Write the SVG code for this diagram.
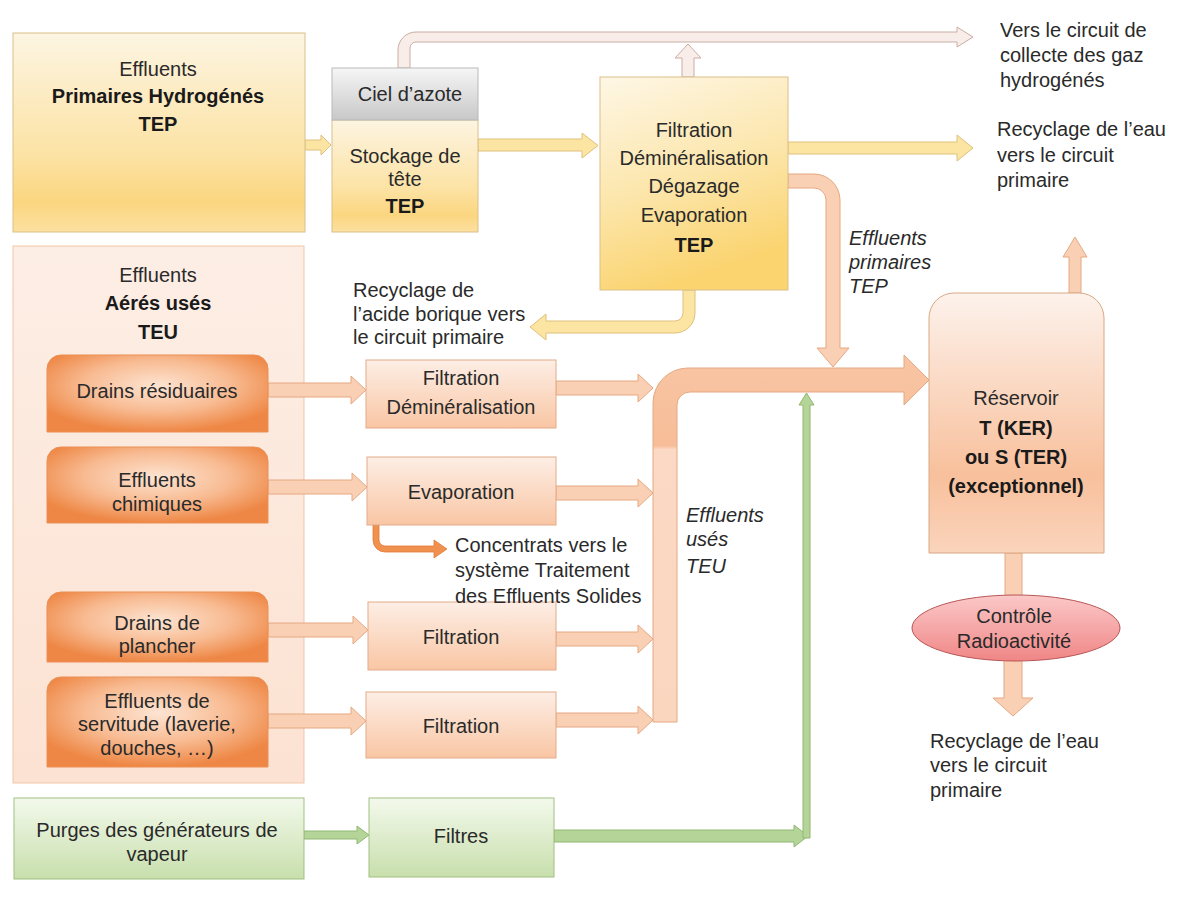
<svg xmlns="http://www.w3.org/2000/svg" width="1196" height="907" viewBox="0 0 1196 907">
<defs>
<linearGradient id="gYel" x1="0" y1="0" x2="0" y2="1"><stop offset="0" stop-color="#fdf5e2"/><stop offset="0.6" stop-color="#fce3a6"/><stop offset="0.85" stop-color="#fbd680"/><stop offset="1" stop-color="#fce0a0"/></linearGradient>
<linearGradient id="gYel2" x1="0" y1="0" x2="0.3" y2="1"><stop offset="0" stop-color="#fef7e6"/><stop offset="0.55" stop-color="#fce6ac"/><stop offset="1" stop-color="#fbd470"/></linearGradient>
<linearGradient id="gGray" x1="0" y1="0" x2="0" y2="1"><stop offset="0" stop-color="#f6f6f6"/><stop offset="1" stop-color="#c8c8c8"/></linearGradient>
<linearGradient id="gSal" x1="0" y1="0" x2="0" y2="1"><stop offset="0" stop-color="#fdeee5"/><stop offset="1" stop-color="#f9c6a4"/></linearGradient>
<linearGradient id="gCont" x1="0" y1="0" x2="0" y2="1"><stop offset="0" stop-color="#fdeee5"/><stop offset="1" stop-color="#fce2d2"/></linearGradient>
<radialGradient id="gOr" cx="0.5" cy="0.4" r="0.6"><stop offset="0" stop-color="#fde4d2"/><stop offset="0.55" stop-color="#f8bb92"/><stop offset="1" stop-color="#ee8745"/></radialGradient>
<linearGradient id="gRes" x1="0" y1="0" x2="0" y2="1"><stop offset="0" stop-color="#fdf2ec"/><stop offset="0.7" stop-color="#f8c09c"/><stop offset="1" stop-color="#fad4bc"/></linearGradient>
<linearGradient id="gEll" x1="0" y1="0" x2="0" y2="1"><stop offset="0" stop-color="#fbc8c8"/><stop offset="1" stop-color="#f08686"/></linearGradient>
<linearGradient id="gGrn" x1="0" y1="0" x2="0" y2="1"><stop offset="0" stop-color="#f3f9ec"/><stop offset="1" stop-color="#c8dfac"/></linearGradient>
<linearGradient id="gPipe" gradientUnits="userSpaceOnUse" x1="0" y1="368" x2="0" y2="722"><stop offset="0" stop-color="#f8c4a2"/><stop offset="0.22" stop-color="#f7bd98"/><stop offset="0.23" stop-color="#fbd9c4"/><stop offset="1" stop-color="#fbd6bf"/></linearGradient>
<style>
text{font-family:'Liberation Sans',Arial,sans-serif;font-size:20px;fill:#2a2a2a}
.c{text-anchor:middle}
.b{font-weight:bold;fill:#1a1a1a}
.i{font-style:italic}
.ay{fill:#fce5a2;stroke:#dfc07c;stroke-width:1}
.as{fill:#f9d0b4;stroke:#e6a882;stroke-width:1}
.ag{fill:#f8ede8;stroke:#c9ada2;stroke-width:1}
.agr{fill:#b5d598;stroke:#8fb872;stroke-width:1}
.ao{fill:#f0914f;stroke:#e27a38;stroke-width:0.8}
.sub{fill:url(#gOr);stroke:#eb8f55;stroke-width:1}
.proc{fill:url(#gSal);stroke:#e3ab8a;stroke-width:1}
.grn{fill:url(#gGrn);stroke:#9fbf82;stroke-width:1}
</style>
</defs>
<rect width="1196" height="907" fill="#ffffff"/>

<g id="n-teu">
<rect x="13" y="246" width="291" height="537" fill="url(#gCont)" stroke="#f0c5a8"/>
<text class="c" x="158" y="282">Effluents</text>
<text class="c b" x="158" y="310">Aérés usés</text>
<text class="c b" x="158" y="339">TEU</text>
</g>

<g id="connectors">
<path class="ay" d="M305,140 L321,140 L321,135 L331,145 L321,155 L321,150 L305,150 Z"/>
<path class="ay" d="M478,139 L582,139 L582,133 L598,145.5 L582,158 L582,151 L478,151 Z"/>
<path class="ay" d="M788,142 L957,142 L957,135 L973,148 L957,161 L957,154 L788,154 Z"/>
<path class="ag" d="M398,68 L398,50 A18,18 0 0 1 416,32 L957,32 L957,27 L973,37 L957,47 L957,42 L416,42 A6,6 0 0 0 410,48 L410,68 Z"/>
<path class="ag" d="M682,77 L682,58 L675,58 L688,44 L701,58 L694,58 L694,77 Z"/>
<path class="ay" d="M695,290 L695,313 A20,20 0 0 1 675,333 L546,333 L546,340 L530,327 L546,314 L546,321 L675,321 A8,8 0 0 0 683,313 L683,290 Z"/>
<path class="as" d="M788,174 L814,174 A26,26 0 0 1 840,200 L840,348 L849,348 L833,367 L817,348 L826,348 L826,200 A12,12 0 0 0 814,188 L788,188 Z"/>
<path class="as" d="M268,383 L351,383 L351,376 L366,390 L351,404 L351,397 L268,397 Z"/>
<path class="as" d="M268,480 L352,480 L352,473 L367,487 L352,501 L352,494 L268,494 Z"/>
<path class="as" d="M268,623 L353,623 L353,616 L368,630 L353,644 L353,637 L268,637 Z"/>
<path class="as" d="M268,714 L351,714 L351,707 L366,721 L351,735 L351,728 L268,728 Z"/>
<path class="as" d="M556,381 L638,381 L638,374 L653,388 L638,402 L638,395 L556,395 Z"/>
<path class="as" d="M556,486 L638,486 L638,479 L653,493 L638,507 L638,500 L556,500 Z"/>
<path class="as" d="M556,632 L638,632 L638,625 L653,639 L638,653 L638,646 L556,646 Z"/>
<path class="as" d="M556,713 L638,713 L638,706 L653,720 L638,734 L638,727 L556,727 Z"/>
<path fill="url(#gPipe)" stroke="#e6a882" d="M653,722 L653,403 A35,35 0 0 1 688,368 L904,368 L904,355 L929,380 L904,405 L904,392 L690,392 A13,13 0 0 0 677,405 L677,722 Z"/>
<path class="ao" d="M373,525 L373,540 A12,12 0 0 0 385,552 L434,552 L434,558 L447,549 L434,540 L434,546 L385,546 A6,6 0 0 1 379,540 L379,525 Z"/>
<path class="agr" d="M304,831 L357,831 L357,826 L369,835 L357,844 L357,839 L304,839 Z"/>
<path class="agr" d="M554,830 L794,830 L794,825 L808,836 L794,847 L794,842 L554,842 Z"/>
<path class="agr" d="M803,838 L803,405 L799,405 L806.5,393 L814,405 L810,405 L810,838 Z"/>
<path class="as" d="M1069,293 L1069,257 L1063,257 L1075,237 L1087,257 L1081,257 L1081,293 Z"/>
<path class="as" d="M1005,553 L1005,600 L1022,600 L1022,553 Z"/>
<path class="as" d="M1004,658 L1004,698 L993,698 L1013,716 L1033,698 L1022,698 L1022,658 Z"/>
</g>

<g id="n-tep-source">
<rect x="13" y="33" width="292" height="199" fill="url(#gYel)" stroke="#d9c08a"/>
<text class="c" x="158" y="76">Effluents</text>
<text class="c b" x="158" y="103">Primaires Hydrogénés</text>
<text class="c b" x="158" y="131">TEP</text>
</g>

<g id="n-stockage">
<rect x="332" y="120" width="146" height="112" fill="url(#gYel)" stroke="#d9c08a"/>
<rect x="332" y="68" width="146" height="52" fill="url(#gGray)" stroke="#b9b9b9"/>
<text class="c" x="410" y="101">Ciel d’azote</text>
<text class="c" x="405" y="163">Stockage de</text>
<text class="c" x="405" y="186">tête</text>
<text class="c b" x="405" y="213">TEP</text>
</g>

<g id="n-filtration-tep">
<rect x="600" y="77" width="188" height="213" fill="url(#gYel2)" stroke="#d9c08a"/>
<text class="c" x="694" y="137">Filtration</text>
<text class="c" x="694" y="165">Déminéralisation</text>
<text class="c" x="694" y="193">Dégazage</text>
<text class="c" x="694" y="222">Evaporation</text>
<text class="c b" x="694" y="252">TEP</text>
</g>

<g id="n-drains-residuaires">
<path class="sub" d="M47,432 L47,369 A14,14 0 0 1 61,355 L254,355 A14,14 0 0 1 268,369 L268,432 Z"/>
<text class="c" x="157" y="398">Drains résiduaires</text>
</g>
<g id="n-effluents-chimiques">
<path class="sub" d="M47,523 L47,461 A14,14 0 0 1 61,447 L254,447 A14,14 0 0 1 268,461 L268,523 Z"/>
<text class="c" x="157" y="487">Effluents</text>
<text class="c" x="157" y="511">chimiques</text>
</g>
<g id="n-drains-plancher">
<path class="sub" d="M47,662 L47,606 A14,14 0 0 1 61,592 L254,592 A14,14 0 0 1 268,606 L268,662 Z"/>
<text class="c" x="157" y="630">Drains de</text>
<text class="c" x="157" y="653">plancher</text>
</g>
<g id="n-effluents-servitude">
<path class="sub" d="M47,767 L47,691 A14,14 0 0 1 61,677 L254,677 A14,14 0 0 1 268,691 L268,767 Z"/>
<text class="c" x="157" y="708">Effluents de</text>
<text class="c" x="157" y="731">servitude (laverie,</text>
<text class="c" x="157" y="755">douches, …)</text>
</g>

<g id="n-filtration-demin">
<rect class="proc" x="366" y="360" width="190" height="68"/>
<text class="c" x="461" y="385">Filtration</text>
<text class="c" x="461" y="414">Déminéralisation</text>
</g>
<g id="n-evaporation">
<rect class="proc" x="367" y="457" width="189" height="68"/>
<text class="c" x="461" y="499">Evaporation</text>
</g>
<g id="n-filtration-1">
<rect class="proc" x="368" y="602" width="188" height="68"/>
<text class="c" x="461" y="644">Filtration</text>
</g>
<g id="n-filtration-2">
<rect class="proc" x="366" y="692" width="190" height="66"/>
<text class="c" x="461" y="733">Filtration</text>
</g>

<g id="n-purges">
<rect class="grn" x="14" y="798" width="290" height="81"/>
<text class="c" x="157" y="837">Purges des générateurs  de</text>
<text class="c" x="157" y="861">vapeur</text>
</g>
<g id="n-filtres">
<rect class="grn" x="369" y="798" width="185" height="79"/>
<text class="c" x="461" y="843">Filtres</text>
</g>

<g id="n-reservoir">
<path fill="url(#gRes)" stroke="#d9a884" d="M929,553 L929,318 A25,25 0 0 1 954,293 L1079,293 A25,25 0 0 1 1104,318 L1104,553 Z"/>
<text class="c" x="1016" y="405">Réservoir</text>
<text class="c b" x="1016" y="435">T (KER)</text>
<text class="c b" x="1016" y="464">ou S (TER)</text>
<text class="c b" x="1016" y="493">(exceptionnel)</text>
</g>

<g id="n-controle">
<ellipse cx="1016" cy="628" rx="104" ry="33" fill="url(#gEll)" stroke="#b85555"/>
<text class="c" x="1014" y="623">Contrôle</text>
<text class="c" x="1014" y="648">Radioactivité</text>
</g>

<g id="labels">
<text x="1000" y="37">Vers le circuit de</text>
<text x="1000" y="62">collecte des gaz</text>
<text x="1000" y="87">hydrogénés</text>
<text x="997" y="136">Recyclage de l’eau</text>
<text x="997" y="162">vers le circuit</text>
<text x="997" y="187">primaire</text>
<text class="i" x="849" y="245">Effluents</text>
<text class="i" x="849" y="269">primaires</text>
<text class="i" x="849" y="293">TEP</text>
<text x="353" y="297">Recyclage de</text>
<text x="353" y="321">l’acide borique vers</text>
<text x="353" y="344">le circuit primaire</text>
<text x="455" y="552">Concentrats vers le</text>
<text x="455" y="577">système Traitement</text>
<text x="455" y="603">des Effluents  Solides</text>
<text class="i" x="686" y="522">Effluents</text>
<text class="i" x="686" y="546">usés</text>
<text class="i" x="686" y="573">TEU</text>
<text x="930" y="748">Recyclage de l’eau</text>
<text x="930" y="772">vers le circuit</text>
<text x="930" y="797">primaire</text>
</g>
</svg>
